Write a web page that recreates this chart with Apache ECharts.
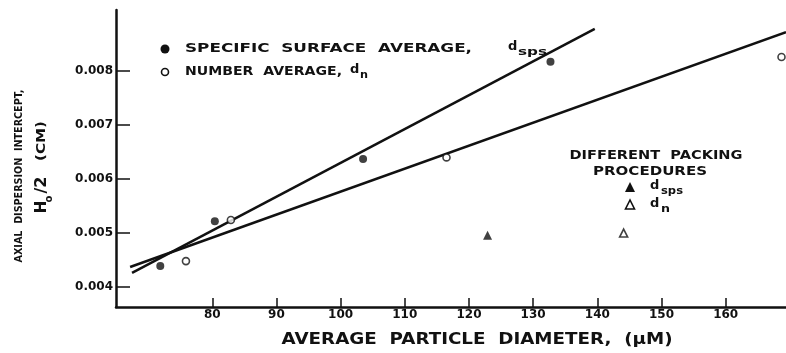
<!DOCTYPE html>
<html>
<head>
<meta charset="utf-8">
<script src="https://cdn.jsdelivr.net/npm/echarts@6/dist/echarts.min.js"></script>
<style>
html,body{margin:0;padding:0;background:#fff;}
#c{width:786px;height:353px;}
</style>
</head>
<body>
<div id="c"></div>
<script>
// ---- data ----
var spsX = [71.9, 80.4, 103.5, 132.7];
var spsY = [0.00439, 0.00522, 0.00637, 0.00817];
var numX = [75.9, 82.9, 116.5, 168.7];
var numY = [0.00448, 0.00524, 0.00640, 0.00826];
var triSpsX = [122.9];
var triSpsY = [0.00496];
var triNumX = [144.1];
var triNumY = [0.00500];
var fitSpsX = [67.5, 139.6];
var fitSpsY = [0.00426, 0.00878];
var fitNumX = [67.2, 169.4];
var fitNumY = [0.00437, 0.00872];
var xTicks = [80, 90, 100, 110, 120, 130, 140, 150, 160];
var yTicks = [0.004, 0.005, 0.006, 0.007, 0.008];

function pairs(xs, ys){ return xs.map(function(x,i){ return [x, ys[i]]; }); }

var FONT = '"DejaVu Sans", sans-serif';
var mctx = document.createElement('canvas').getContext('2d');
function measure(text, size){
  mctx.font = 'bold ' + size + 'px ' + FONT;
  return mctx.measureText(text).width;
}
var chart = echarts.init(document.getElementById('c'), null, {renderer:'canvas'});

// text element; if width given, stretch horizontally to that width
function txt(text, x, y, size, width, opts){
  opts = opts || {};
  var sx = width ? width / measure(text, size) : 1;
  return {
    type:'text', x:x, y:y, rotation: opts.rotation || 0, scaleX:sx, z:10,
    style:{ text:text, fill:'#111', font:'bold ' + size + 'px ' + FONT,
      textAlign: opts.align || 'left', textVerticalAlign: opts.valign || 'middle' }
  };
}
var ROT = {rotation:Math.PI/2, align:'left'};

var option = {
  backgroundColor:'#fff',
  animation:false,
  grid:{left:116, right:0, top:10, bottom:46, containLabel:false},
  xAxis:{
    type:'value', min:65, max:169.4,
    axisLine:{show:true, lineStyle:{color:'#111', width:2.5}},
    axisTick:{show:true, inside:true, length:9, lineStyle:{color:'#111', width:1.5}, customValues:xTicks},
    axisLabel:{show:true, margin:2, color:'#111', fontFamily:FONT, fontWeight:'bold', fontSize:12, customValues:xTicks},
    splitLine:{show:false}
  },
  yAxis:{
    type:'value', min:0.00363, max:0.00913,
    axisLine:{show:true, lineStyle:{color:'#111', width:2.5}},
    axisTick:{show:true, inside:true, length:14, lineStyle:{color:'#111', width:1.5}, customValues:yTicks},
    axisLabel:{show:true, margin:3, color:'#111', fontFamily:FONT, fontWeight:'bold', fontSize:12, customValues:yTicks,
      formatter:function(v){ return v.toFixed(3); }},
    splitLine:{show:false}
  },
  series:[
    {type:'line', data:pairs(fitSpsX, fitSpsY), symbol:'none', lineStyle:{color:'#111', width:2.5}, z:3},
    {type:'line', data:pairs(fitNumX, fitNumY), symbol:'none', lineStyle:{color:'#111', width:2.5}, z:3},
    {type:'scatter', data:pairs(spsX, spsY), symbol:'circle', symbolSize:8, itemStyle:{color:'#111'}, z:5},
    {type:'scatter', data:pairs(numX, numY), symbol:'circle', symbolSize:7, itemStyle:{color:'#fff', borderColor:'#111', borderWidth:1.6}, z:5},
    {type:'scatter', data:pairs(triSpsX, triSpsY), symbol:'triangle', symbolSize:9, itemStyle:{color:'#111'}, z:5},
    {type:'scatter', data:pairs(triNumX, triNumY), symbol:'triangle', symbolSize:8, itemStyle:{color:'#fff', borderColor:'#111', borderWidth:1.6}, z:5}
  ],
  graphic:[
    // legend
    {type:'circle', shape:{cx:165, cy:49, r:4.5}, style:{fill:'#111'}, z:10},
    txt('SPECIFIC  SURFACE  AVERAGE,', 185, 49, 13, 287),
    txt('d', 508, 47, 13),
    txt('sps', 518, 52, 10, 29),
    {type:'circle', shape:{cx:165, cy:72, r:3.5}, style:{fill:'#fff', stroke:'#111', lineWidth:1.6}, z:10},
    txt('NUMBER  AVERAGE,', 185, 72, 13, 157),
    txt('d', 350, 70, 13),
    txt('n', 360, 75, 10, 8),
    // annotation
    txt('DIFFERENT  PACKING', 656, 156, 12, 173, {align:'center'}),
    txt('PROCEDURES', 650, 172, 12, 114, {align:'center'}),
    {type:'polygon', shape:{points:[[630,182],[625,192],[635,192]]}, style:{fill:'#111'}, z:10},
    txt('d', 650, 186, 13),
    txt('sps', 661, 191, 10, 22),
    {type:'polygon', shape:{points:[[630,200],[625.5,209],[634.5,209]]}, style:{fill:'#fff', stroke:'#111', lineWidth:1.6}, z:10},
    txt('d', 650, 204, 13),
    txt('n', 661, 209, 10, 9),
    // axis titles
    txt('AVERAGE  PARTICLE  DIAMETER,  (\u03bcM)', 477, 340, 16, 391, {align:'center'}),
    txt('AXIAL  DISPERSION  INTERCEPT,', 19, 176, 10, 173, {align:'center', rotation:Math.PI/2}),
    txt('H', 42, 207, 15, 0, {align:'center', rotation:Math.PI/2}),
    txt('o', 49, 199, 10, 0, {align:'center', rotation:Math.PI/2}),
    txt('/2', 42, 185, 16, 0, {align:'center', rotation:Math.PI/2}),
    txt('(CM)', 42, 141, 13, 40, {align:'center', rotation:Math.PI/2})
  ]
};
chart.setOption(option);
</script>
</body>
</html>
